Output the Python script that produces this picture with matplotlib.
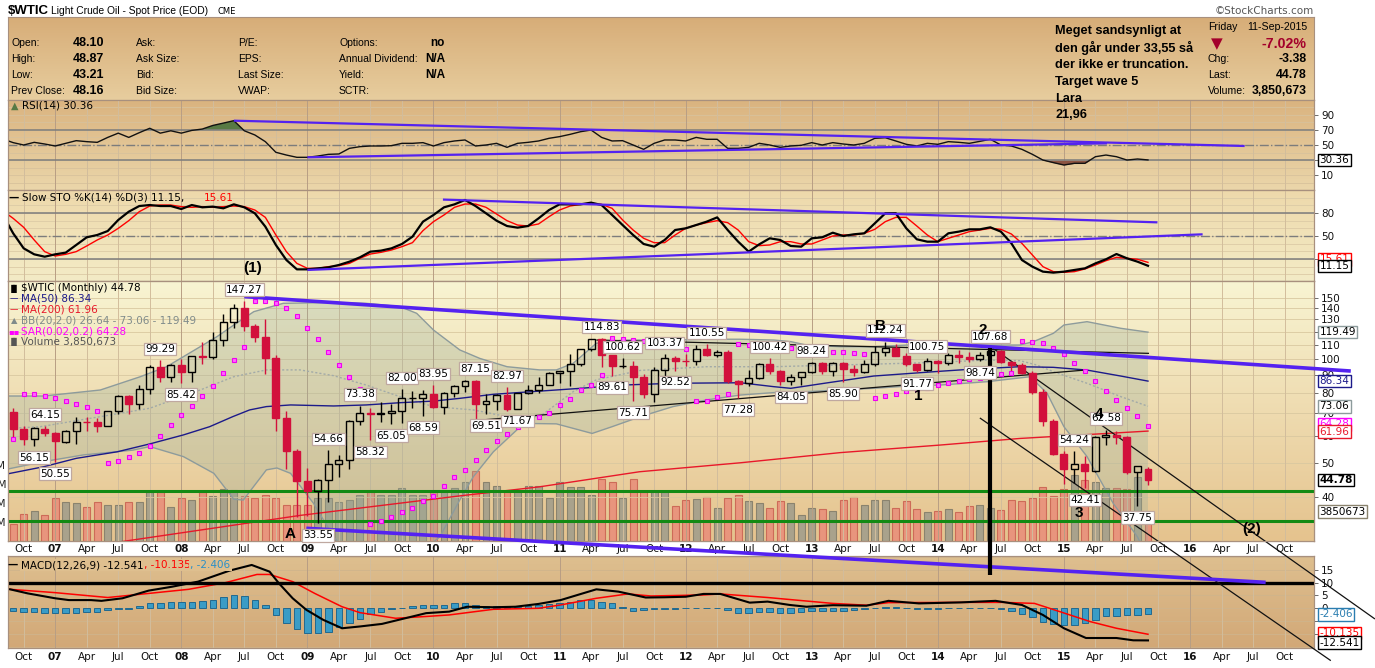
import numpy as np
import pandas as pd
import matplotlib
matplotlib.use('Agg')
import matplotlib.pyplot as plt
from matplotlib.colors import LinearSegmentedColormap
from matplotlib.ticker import NullLocator

W, H = 1375, 668
ARIAL = ['Liberation Sans', 'DejaVu Sans']
plt.rcParams['font.family'] = ['DejaVu Sans']

# ---------------- monthly candles, Sep 2006 .. Sep 2015 ----------------
months = pd.period_range('2006-09', '2015-09', freq='M')
opens = [70.3, 62.9, 58.7, 62.9, 61.05, 57.8, 61.8, 65.9, 65.7, 64.0, 70.7, 78.2,
         74.0, 81.7, 94.5, 88.7, 96.0, 91.75, 101.8, 101.6, 113.5, 127.4, 140.0, 124.1,
         115.5, 100.6, 67.8, 54.4, 44.6, 41.7, 44.8, 49.7, 51.1, 66.3, 69.9, 69.45,
         70.0, 70.6, 77.0, 77.3, 79.4, 72.9, 79.7, 83.8, 86.2, 74.0, 75.6, 78.95,
         71.9, 80.0, 81.4, 84.1, 91.4, 92.2, 97.0, 106.7, 113.9, 102.7, 95.4, 95.7,
         88.8, 79.2, 93.2, 100.4, 98.8, 98.5, 107.1, 103.0, 104.9, 86.5, 85.0, 88.1,
         96.5, 92.2, 86.2, 88.9, 91.8, 97.5, 92.05, 97.2, 93.5, 92.0, 96.6, 105.0,
         107.7, 102.3, 96.4, 92.7, 98.4, 97.5, 102.6, 101.6, 99.7, 102.7, 105.4, 98.2,
         96.0, 91.2, 80.5, 66.2, 53.3, 48.2, 49.8, 47.6, 59.6, 60.3, 59.5, 47.1, 48.10]
highs = [72.0, 63.9, 63.6, 64.15, 61.5, 62.4, 68.1, 67.9, 67.5, 70.8, 78.8, 78.8,
         83.9, 96.2, 99.29, 96.8, 100.1, 102.1, 111.8, 119.9, 135.1, 143.7, 147.27, 126.2,
         130.0, 103.0, 71.0, 55.0, 48.6, 45.2, 54.66, 53.0, 66.6, 73.38, 72.0, 75.0,
         74.4, 82.00, 81.0, 81.4, 83.95, 80.5, 83.9, 87.0, 87.15, 79.3, 79.5, 82.97,
         80.0, 84.4, 89.0, 92.0, 92.6, 103.4, 106.95, 113.9, 114.83, 102.9, 100.62, 98.4,
         90.5, 94.65, 103.37, 101.9, 103.7, 109.8, 110.55, 106.3, 106.2, 86.9, 92.9, 97.4,
         100.42, 93.0, 90.3, 91.9, 98.24, 98.0, 97.7, 97.8, 96.0, 99.0, 108.9, 112.24,
         110.7, 104.2, 96.9, 100.75, 99.4, 104.0, 106.0, 104.9, 104.5, 107.68, 105.8, 98.8,
         97.2, 92.5, 82.0, 67.0, 54.2, 54.24, 52.5, 59.9, 62.58, 61.8, 59.9, 49.3, 48.87]
lows = [59.5, 56.6, 56.15, 59.8, 50.55, 57.1, 56.7, 61.9, 61.6, 63.9, 69.5, 69.2,
        71.8, 79.0, 85.9, 85.8, 85.42, 86.1, 97.0, 100.0, 109.0, 122.6, 120.4, 112.2,
        90.5, 62.0, 48.2, 35.1, 35.3, 33.55, 38.7, 45.6, 48.3, 64.5, 58.32, 66.0,
        65.05, 65.3, 72.4, 68.59, 72.4, 69.5, 77.7, 80.5, 66.8, 69.51, 71.3, 70.8,
        71.67, 79.0, 79.7, 84.0, 85.1, 83.85, 95.6, 105.5, 94.63, 89.61, 94.0, 75.71,
        77.1, 74.95, 89.3, 92.52, 95.4, 95.9, 102.1, 101.0, 85.2, 77.28, 83.7, 87.3,
        90.5, 84.1, 84.05, 84.2, 91.2, 90.3, 89.3, 85.90, 89.4, 91.1, 95.5, 102.2,
        101.8, 95.5, 91.77, 92.5, 91.2, 96.3, 97.4, 97.9, 98.74, 101.4, 97.2, 92.5,
        90.4, 79.4, 64.1, 52.7, 43.6, 43.9, 42.41, 47.1, 56.5, 57.0, 46.7, 37.75, 43.21]
closes = [62.9, 58.7, 63.1, 61.05, 58.1, 61.8, 65.9, 65.7, 64.0, 70.7, 78.2, 74.0,
          81.7, 94.5, 88.7, 96.0, 91.75, 101.8, 101.6, 113.5, 127.4, 140.0, 124.1, 115.5,
          100.6, 67.8, 54.4, 44.6, 41.7, 44.8, 49.7, 51.1, 66.3, 69.9, 69.45, 69.96,
          70.6, 77.0, 77.3, 79.4, 72.9, 79.7, 83.8, 86.2, 73.97, 75.6, 78.95, 71.9,
          79.97, 81.4, 84.1, 91.4, 92.2, 97.0, 106.7, 113.9, 102.7, 95.4, 95.7, 88.8,
          79.2, 93.2, 100.4, 98.8, 98.5, 107.1, 103.0, 104.9, 86.5, 84.96, 88.1, 96.5,
          92.2, 86.2, 88.9, 91.8, 97.5, 92.05, 97.2, 93.5, 91.97, 96.6, 105.0, 107.7,
          102.3, 96.4, 92.7, 98.4, 97.5, 102.6, 101.6, 99.7, 102.7, 105.4, 98.2, 96.0,
          91.2, 80.5, 66.2, 53.3, 48.2, 49.8, 47.6, 59.6, 60.3, 59.5, 47.1, 49.2, 44.78]
volume_m = [2.3, 3.5, 3.9, 3.4, 5.6, 5.1, 5.0, 4.5, 5.1, 4.7, 4.8, 5.1,
            5.1, 6.4, 6.4, 4.5, 5.7, 5.4, 6.4, 5.9, 6.8, 6.7, 5.9, 5.7,
            6.1, 5.7, 4.7, 4.8, 4.8, 5.7, 5.7, 5.1, 5.4, 6.0, 6.4, 6.0,
            6.0, 7.0, 6.0, 6.0, 6.6, 6.7, 7.0, 7.7, 9.2, 7.7, 7.2, 6.6,
            6.6, 7.2, 7.3, 5.7, 7.7, 7.1, 7.1, 6.0, 8.2, 7.7, 5.7, 8.2,
            6.4, 6.4, 6.4, 4.6, 5.4, 5.5, 5.8, 4.3, 5.6, 6.0, 5.3, 5.0,
            4.3, 5.3, 5.0, 3.4, 4.3, 4.2, 4.0, 5.4, 5.8, 4.8, 5.4, 5.4,
            4.3, 5.3, 4.2, 3.8, 3.9, 4.2, 3.8, 4.6, 4.7, 4.3, 4.1, 5.4,
            5.3, 5.6, 7.1, 5.9, 6.8, 8.7, 8.0, 7.8, 7.0, 7.0, 6.9, 8.4, 3.85]
sar = [58.7, 79.1, 79.1, 78.2, 77.0, 75.8, 74.0, 72.5, 71.0, 50.2, 50.9, 52.0,
       53.7, 56.1, 60.0, 64.5, 68.9, 73.2, 78.2, 83.8, 90.9, 99.3, 108.1, 147.3,
       147.3, 144.7, 140.0, 133.0, 122.6, 114.0, 104.5, 96.1, 88.5, 81.9, 33.5, 34.0,
       35.1, 36.1, 37.1, 38.9, 40.4, 43.1, 45.6, 47.9, 51.1, 54.6, 58.0, 60.8,
       63.8, 66.0, 68.2, 70.0, 73.5, 76.5, 81.4, 84.0, 89.7, 114.7, 114.2, 113.4,
       112.7, 111.5, 109.7, 108.1, 107.1, 75.5, 75.8, 77.7, 79.1, 110.2, 109.5, 109.0,
       108.5, 108.1, 107.6, 106.4, 105.5, 105.0, 104.5, 104.5, 103.8, 103.3, 77.4, 78.2,
       79.3, 80.7, 81.9, 82.3, 84.0, 85.1, 86.4, 87.6, 88.3, 89.3, 90.3, 90.9,
       112.7, 111.8, 111.0, 107.6, 103.4, 97.2, 92.3, 86.4, 80.9, 76.2, 72.1, 68.5, 64.28]
macd_hist = [-1.0, -1.3, -1.6, -1.9, -1.9, -1.9, -1.7, -1.6, -1.3, -0.6, -0.1, -0.1,
             0.9, 1.9, 1.9, 2.5, 2.5, 2.5, 3.0, 3.2, 4.5, 5.2, 4.8, 3.2,
             1.3, -2.6, -5.6, -8.2, -9.7, -9.7, -9.1, -7.4, -5.8, -4.3, -2.2, -1.3,
             -0.1, 0.3, 0.9, 1.3, 1.3, 1.3, 1.9, 1.9, 1.3, 0.9, 0.9, 0.4,
             0.6, 0.9, 1.3, 1.6, 1.9, 2.6, 3.2, 3.2, 2.6, 1.9, 0.6, -0.9,
             -0.6, -0.1, -0.1, -0.1, 0.1, 0.1, 0.1, 0.0, -0.6, -1.7, -1.7, -1.3,
             -1.3, -1.7, -1.7, -1.3, -1.0, -1.0, -0.9, -0.9, -0.6, -0.1, 0.3, 0.5,
             0.5, 0.2, -0.1, -0.1, -0.1, 0.1, 0.1, 0.2, 0.2, 0.3, -0.4, -0.9,
             -2.2, -3.5, -5.2, -6.1, -6.5, -6.5, -5.8, -4.5, -3.0, -3.0, -2.7, -2.7, -2.406]

# ---------------- oscillators, Aug 2006 .. Sep 2015 ----------------
osc_months = pd.period_range('2006-08', '2015-09', freq='M')
rsi = [58.0, 53.1, 50.0, 53.5, 51.3, 48.7, 52.2, 55.7, 54.4, 53.5, 60.0, 65.6,
       60.0, 66.2, 72.0, 65.6, 68.7, 65.6, 69.2, 71.0, 75.7, 78.8, 82.0, 68.7,
       63.2, 54.4, 40.4, 36.8, 33.8, 33.8, 35.5, 37.7, 38.2, 45.6, 47.8, 48.7,
       48.7, 49.1, 52.2, 52.2, 53.1, 48.7, 53.1, 55.3, 56.6, 48.7, 50.0, 52.2,
       46.9, 52.2, 53.5, 55.3, 58.8, 61.0, 64.0, 67.5, 69.7, 60.0, 55.3, 55.7,
       50.0, 44.3, 52.2, 56.6, 56.6, 55.3, 60.0, 57.5, 57.5, 45.6, 45.6, 46.9,
       52.2, 50.0, 46.9, 48.7, 49.6, 53.1, 50.0, 53.1, 51.3, 50.0, 52.2, 58.8,
       59.6, 55.3, 50.9, 48.7, 52.2, 50.9, 54.4, 53.5, 52.2, 54.8, 57.5, 50.0,
       48.7, 44.3, 37.7, 30.2, 26.8, 23.7, 25.9, 25.9, 34.6, 36.8, 34.6, 30.2, 31.6, 30.36]
sto_k = [78.0, 53.5, 33.9, 26.1, 23.0, 26.1, 28.3, 38.3, 48.3, 51.3, 56.5, 70.9,
         81.7, 89.1, 90.4, 89.1, 89.1, 85.2, 90.4, 87.4, 88.3, 86.1, 91.3, 87.4,
         79.6, 62.2, 38.3, 18.7, 6.5, 6.5, 7.8, 9.1, 12.2, 16.5, 22.2, 29.6,
         30.9, 33.9, 39.6, 49.1, 68.7, 77.4, 87.4, 91.3, 97.0, 89.1, 79.6, 70.0,
         63.0, 60.9, 63.0, 73.0, 83.9, 91.3, 91.3, 91.3, 93.5, 90.4, 77.4, 64.3,
         51.3, 39.6, 36.1, 44.8, 57.8, 60.0, 64.3, 68.7, 74.3, 57.8, 42.6, 29.6,
         39.1, 47.0, 44.8, 37.0, 36.1, 47.0, 48.3, 54.3, 50.0, 52.2, 53.5, 66.5,
         79.6, 79.6, 60.0, 45.7, 42.6, 42.6, 53.5, 55.7, 58.7, 58.7, 61.3, 55.7,
         40.4, 18.7, 10.0, 3.5, 2.2, 3.5, 5.7, 7.8, 14.3, 19.6, 26.5, 20.9, 16.5, 11.15]
sto_d = [83.0, 73.0, 61.3, 44.8, 29.6, 23.9, 26.1, 29.6, 37.0, 44.8, 51.3, 60.0,
         70.0, 81.7, 89.1, 90.4, 90.4, 88.3, 87.4, 88.3, 87.4, 88.3, 89.1, 88.3,
         83.9, 74.3, 51.3, 29.6, 14.3, 7.8, 7.8, 10.0, 11.3, 14.3, 20.9, 26.5,
         28.7, 31.7, 36.1, 41.3, 57.0, 68.7, 77.4, 87.4, 91.7, 91.7, 87.4, 78.7,
         70.0, 64.3, 63.0, 65.7, 75.2, 83.9, 89.1, 91.3, 91.7, 91.3, 86.1, 70.9,
         57.8, 47.0, 41.3, 41.3, 51.3, 60.0, 64.3, 67.4, 70.0, 67.4, 57.8, 42.6,
         37.4, 38.3, 42.6, 42.6, 39.6, 39.6, 44.8, 50.0, 51.3, 51.3, 53.5, 58.7,
         68.7, 74.3, 74.3, 63.0, 51.3, 42.6, 47.0, 51.3, 55.7, 57.8, 60.0, 58.7,
         52.6, 40.4, 25.2, 10.0, 3.5, 2.6, 3.5, 7.0, 12.2, 17.8, 22.2, 20.9, 19.6, 15.61]

# ---------------- smooth overlays read at points (months since Jan 2007) ----------------
ma50_at = [-4.6, -1.1, 2.0, 5.9, 9.0, 12.2, 14.7, 16.9, 18.5, 20.1, 22.4, 26.5, 29.6, 32.8, 36.0,
           38.5, 41.7, 50.0, 54.0, 58.8, 65.2, 68.4, 70.0, 73.2, 77.9, 84.3, 87.1, 91.8, 95.0,
           98.2, 101.4, 104]
ma50 = [46.6, 48.9, 51.7, 54.0, 56.9, 60.4, 63.8, 68.2, 71.3, 72.9, 73.7, 73.2, 73.7, 74.8, 75.6,
        77.0, 79.1, 82.3, 84.1, 85.1, 85.4, 83.2, 82.3, 85.1, 89.3, 92.2, 93.4, 95.0, 94.6,
        92.9, 89.3, 86.34]
ma200_at = [-4.6, 6.5, 23.3, 38.5, 46.1, 55.6, 65.2, 74.7, 84.3, 91.8, 104]
ma200 = [27.0, 29.8, 35.4, 40.3, 42.8, 47.3, 50.2, 53.7, 56.5, 59.0, 61.96]
bb_up_at = [-4.6, -1.1, 4.3, 8.1, 10.6, 13.8, 15.4, 17.0, 18.9, 21.7, 26.5, 29.6, 32.8, 34.4,
            36.0, 38.5, 40.4, 43.0, 46.1, 47.7, 49.3, 51.5, 54.1, 58.8, 62.0, 65.2, 68.4, 70.0,
            71.5, 74.7, 77.9, 81.1, 84.2, 87.1, 91.8, 93.1, 95.0, 96.0, 98.2, 101.4, 104]
bb_up = [78.2, 78.2, 81.4, 88.9, 95.0, 108.5, 116.0, 125.3, 136.9, 144.7, 145.5, 144.7, 141.6,
         135.4, 121.2, 106.2, 100.4, 95.0, 93.0, 93.0, 97.2, 111.0, 113.4, 113.4, 114.0, 114.0,
         113.4, 112.2, 109.7, 108.5, 108.5, 109.7, 111.0, 109.7, 109.7, 112.2, 118.6, 125.3,
         128.1, 122.6, 119.49]
bb_mid_at = [-4.6, -1.4, 4.3, 9.0, 13.8, 17.0, 20.1, 23.3, 26.5, 29.6, 32.8, 36.0, 39.8, 43.0,
             46.1, 49.3, 51.5, 55.7, 62.0, 68.4, 74.7, 81.1, 84.2, 88.7, 91.8, 93.4, 95.0,
             98.2, 101.4, 104]
bb_mid = [63.0, 63.8, 68.2, 72.1, 81.4, 88.9, 93.0, 93.0, 89.5, 84.1, 77.9, 72.9, 71.3, 68.2,
          68.2, 80.5, 87.1, 92.7, 95.0, 95.0, 96.1, 97.2, 97.9, 99.3, 98.9, 96.1, 91.9,
          85.1, 77.9, 73.06]
bb_lo_at = [-4.6, -1.1, 2.7, 7.4, 9.0, 12.2, 15.1, 17.0, 17.9, 20.1, 21.1, 22.4, 24.6, 26.5,
            29.0, 33.0, 36.6, 38.5, 39.8, 41.7, 44.6, 47.7, 51.1, 53.0, 55.7, 58.8, 62.0,
            65.2, 68.4, 71.5, 74.7, 77.9, 81.1, 84.2, 88.7, 92.8, 94.4, 96.0, 98.2, 100.7,
            103.0, 104]
bb_lo = [48.1, 50.6, 52.9, 54.6, 55.9, 52.3, 46.8, 39.4, 39.2, 47.9, 48.5, 46.8, 38.3, 30.7,
         25.0, 25.0, 30.7, 39.2, 45.8, 54.0, 65.2, 65.0, 61.0, 63.8, 68.2, 72.9, 76.2,
         78.7, 80.0, 80.5, 81.4, 82.3, 83.5, 84.1, 86.0, 88.9, 79.6, 63.8, 52.3, 38.3,
         30.7, 26.64]
macd_at = [-4.3, -2.6, 0, 1.3, 3.4, 4.4, 6.4, 8.9, 11.1, 13.6, 16.6, 18.7, 20.4, 21.3, 22.6,
           23.9, 25.5, 27.3, 29, 31.1, 33.2, 35.3, 37.5, 39.2, 41.7, 43.8, 46, 48.1, 50.2,
           51.5, 53.6, 56.2, 58, 60, 61.7, 63.3, 66.1, 67.8, 69.9, 71.5, 74, 77.2, 79.3, 82.2,
           86.2, 89.5, 92, 94, 96, 98.1, 101, 102.6, 104]
macd = [7.4, 5.8, 3.9, 3.2, 3.2, 2.9, 3.9, 6.9, 8.4, 10.4, 14.7, 16.9, 14.3, 9.7, 3.9,
        -0.6, -4.5, -7.8, -7.1, -6.1, -4.0, -1.9, -1.3, 0.6, 0.4, 0.6, 1.7, 3.2, 5.8,
        7.4, 6.5, 4.2, 4.3, 4.5, 5.6, 5.6, 2.2, 2.6, 1.3, 0.6, 1.2, 1.0, 2.9, 1.9,
        2.3, 2.9, 1.3, -2.6, -7.8, -11.6, -11.6, -12.5, -12.541]
signal_at = [-4.3, 0, 5, 8.9, 12.7, 16.2, 19.2, 20.4, 22.6, 24.7, 27.3, 29, 32.4, 35.3, 37.5,
             41.7, 46, 48.1, 51.5, 54.5, 56.7, 61.7, 63.3, 67.8, 74, 77.2, 79.3, 86.2, 90.3,
             93.2, 95.6, 98.5, 101, 104]
signal = [7.4, 6.1, 4.2, 5.8, 7.4, 10.0, 13.2, 13.2, 10.4, 5.8, 0.6, -1.7, -3.9, -3.2, -2.6,
          -0.4, 0.0, 1.3, 3.9, 5.6, 4.8, 5.2, 5.6, 4.2, 1.9, 1.2, 2.2, 2.3, 2.3,
          1.9, -1.3, -5.2, -7.8, -10.135]

# high / low tags on the price panel: (month since Jan 2007, value, above?)
tag_at = [-1, -2, 0, 10, 12, 18, 25, 26, 29, 30, 32, 33, 35, 36, 40, 41, 43, 44, 52, 53, 54,
          55, 58, 59, 62, 65, 68, 70, 72, 75, 79, 82, 83, 88, 89, 97, 98, 100, 103]
tag_val = [64.15, 56.15, 50.55, 99.29, 85.42, 147.27, 33.55, 54.66, 73.38, 58.32, 65.05, 82.00,
           68.59, 83.95, 87.15, 69.51, 82.97, 71.67, 114.83, 89.61, 100.62, 75.71, 103.37,
           92.52, 110.55, 77.28, 100.42, 84.05, 98.24, 85.90, 112.24, 91.77, 100.75, 98.74,
           107.68, 54.24, 42.41, 62.58, 37.75]
tag_up = [1, 0, 0, 1, 0, 1, 0, 1, 1, 0, 0, 1, 0, 1, 1, 0, 1, 0, 1, 0, 1,
          0, 1, 0, 1, 0, 1, 0, 1, 0, 1, 0, 1, 0, 1, 1, 0, 1, 0]

# wave labels drawn on the chart
wave_text = ['(1)', 'A', 'B', '2', '1', '4', '3', '(2)']
wave_at = [18.8, 22.4, 78.5, 88.3, 82.1, 99.3, 97.4, 113.9]
wave_val = [183, 31.3, 124.5, 121.3, 78.2, 69.4, 35.9, 32.3]

# hand drawn lines: ((month, value), (month, value))
main_purple = [((18.0, 151.3), (123.3, 92.3)), ((23.9, 32.5), (115.2, 22.7))]
main_black = [((39.8, 66.4), (98.0, 92.9)), ((51.5, 113.4), (104.1, 103.8)),
              ((89.2, 107.6), (125.6, 17.8)), ((88.0, 67.6), (121.4, 13.5))]
wave2_line = ((89, 107.68), (89, 23.8))
green_levels = [41.7, 34.1]
rsi_purple = [((17.0, 82.0), (113.2, 48.7)), ((24.0, 33.8), (100.1, 52.2))]
sto_purple = [((36.9, 97.5), (104.9, 67.8)), ((24.0, 5.7), (109.2, 52.2))]

# ---------------- layout helpers ----------------
def fbox(x0, y0, x1, y1):
    return [x0 / W, 1 - y1 / H, (x1 - x0) / W, (y1 - y0) / H]

def fpt(x, y):
    return x / W, 1 - y / H

base = pd.Period('2007-01', freq='M')
x = np.array([(p - base).n for p in months])
xo = np.array([(p - base).n for p in osc_months])
XMIN, XMAX = -4.54, 119.8
quarters = np.arange(-3, 118, 3)
qlabels = [f"{(2007 + q // 12) % 100:02d}" if q % 12 == 0 else
           ['Jan', 'Apr', 'Jul', 'Oct'][(q % 12) // 3] for q in quarters]

fig = plt.figure(figsize=(W / 100, H / 100), dpi=100)
fig.patch.set_facecolor('white')


def gradient(rect, top, bottom, z=0):
    bg = fig.add_axes(fbox(*rect), zorder=z)
    cm = LinearSegmentedColormap.from_list('bg', [bottom, top])
    bg.imshow(np.linspace(0, 1, 100).reshape(-1, 1), cmap=cm, aspect='auto',
              origin='lower', extent=[0, 1, 0, 1])
    bg.set_xticks([]); bg.set_yticks([])
    for s in bg.spines.values():
        s.set_color('#A8907E')
    return bg


def panel(rect, top, bottom, z=2):
    gradient(rect, top, bottom)
    ax = fig.add_axes(fbox(*rect), zorder=z)
    ax.set_facecolor('none')
    for s in ax.spines.values():
        s.set_color('#A8907E')
    ax.set_xlim(XMIN, XMAX)
    ax.tick_params(axis='x', length=0, labelbottom=False)
    ax.yaxis.tick_right()
    ax.tick_params(axis='y', which='both', length=3, width=0.6, colors='#555555',
                   labelsize=7.5, labelcolor='#111111', pad=2)
    for q in quarters:
        ax.axvline(q, color='#B89E84' if q % 12 == 0 else '#D2BD9C', lw=0.7, zorder=0.3)
    return ax


def tag(ax, y, text, ec, tc='#000000', bold=False):
    ax.annotate(text, xy=(1, y), xycoords=('axes fraction', 'data'), xytext=(4, 0),
                textcoords='offset points', ha='left', va='center', fontsize=7.5,
                color=tc, fontweight='bold' if bold else 'normal', annotation_clip=False,
                bbox=dict(boxstyle='square,pad=0.12', fc='white', ec=ec, lw=1), zorder=20)


def seg(ax, line, **kw):
    (a, b), (c, d) = line
    ax.plot([a, c], [b, d], clip_on=False, solid_capstyle='butt', **kw)


def right_ticks(ax, ticks, shown):
    ax.set_yticks(ticks)
    ax.set_yticklabels([str(t) if t in shown else '' for t in ticks])

# ---------------- header ----------------
gradient((7.5, 17, 1314, 100), '#D7AD78', '#E7CD9E')
fig.text(*fpt(8, 11), '$WTIC', family=ARIAL, fontsize=9.5, fontweight='bold', va='center')
fig.text(*fpt(51, 11), 'Light Crude Oil - Spot Price (EOD)', family=ARIAL, fontsize=7.4, va='center')
fig.text(*fpt(218, 11), 'CME', fontsize=6, va='center')
fig.text(*fpt(1314, 11), '\u00a9StockCharts.com', fontsize=7.5, color='#555555', ha='right', va='center')

rows_y = [43, 59, 75, 91]
col1 = ['Open:', 'High:', 'Low:', 'Prev Close:']
col1v = ['48.10', '48.87', '43.21', '48.16']
col2 = ['Ask:', 'Ask Size:', 'Bid:', 'Bid Size:']
col3 = ['P/E:', 'EPS:', 'Last Size:', 'VWAP:']
col4 = ['Options:', 'Annual Dividend:', 'Yield:', 'SCTR:']
col4v = ['no', 'N/A', 'N/A', '']
for i, yy in enumerate(rows_y):
    fig.text(*fpt(11, yy), col1[i], family=ARIAL, fontsize=7.5, va='center')
    fig.text(*fpt(73, yy), col1v[i], family=ARIAL, fontsize=9, fontweight='bold', va='center')
    fig.text(*fpt(136, yy), col2[i], family=ARIAL, fontsize=7.5, va='center')
    fig.text(*fpt(238, yy), col3[i], family=ARIAL, fontsize=7.5, va='center')
    fig.text(*fpt(339, yy), col4[i], family=ARIAL, fontsize=7.5, va='center')
    fig.text(*fpt(445, yy), col4v[i], family=ARIAL, fontsize=8.5, fontweight='bold', va='center', ha='right')

note = ['Meget sandsynligt at', 'den g\u00e5r under 33,55 s\u00e5', 'der ikke er truncation.',
        'Target wave 5', 'Lara', '21,96']
for i, s in enumerate(note):
    fig.text(*fpt(1055, 31 + 16.9 * i), s, family=ARIAL, fontsize=9.2, fontweight='bold', va='center')

fig.text(*fpt(1208, 27), 'Friday', family=ARIAL, fontsize=7.6, va='center')
fig.text(*fpt(1307, 27), '11-Sep-2015', family=ARIAL, fontsize=7.6, va='center', ha='right')
fig.text(*fpt(1217, 44), '\u25bc', fontsize=11, color='#A3002B', va='center', ha='center')
fig.text(*fpt(1307, 44), '-7.02%', family=ARIAL, fontsize=10.2, fontweight='bold', color='#A3002B', va='center', ha='right')
for yy, lab, val in [(59, 'Chg:', '-3.38'), (75, 'Last:', '44.78'), (91, 'Volume:', '3,850,673')]:
    fig.text(*fpt(1208, yy), lab, family=ARIAL, fontsize=7.6, va='center')
    fig.text(*fpt(1307, yy), val, family=ARIAL, fontsize=8.8, fontweight='bold', va='center', ha='right')

# ---------------- RSI ----------------
ax_rsi = panel((7.5, 100, 1314, 190), '#DAB37F', '#EBD6AA')
ax_rsi.set_ylim(-9.2, 109.2)
for v in range(0, 101, 10):
    ax_rsi.axhline(v, color='#D8C29C', lw=0.6, zorder=0.2)
ax_rsi.axhline(70, color='#7C7C7C', lw=1.1); ax_rsi.axhline(30, color='#7C7C7C', lw=1.1)
ax_rsi.axhline(50, color='#7C7C7C', lw=1.0, ls='-.')
r = np.array(rsi)
ax_rsi.fill_between(xo, r, 70, where=r >= 70, interpolate=True, color='#587A44', lw=0)
ax_rsi.fill_between(xo, r, 30, where=r <= 30, interpolate=True, color='#8C5442', lw=0)
ax_rsi.plot(xo, r, color='#111111', lw=1.0)
for ln in rsi_purple:
    seg(ax_rsi, ln, color='#5422F0', lw=1.6)
right_ticks(ax_rsi, [10, 30, 50, 70, 90], [10, 50, 70, 90])
tag(ax_rsi, 30.36, '30.36', '#000000')
fig.text(*fpt(15, 106), '\u25b2', fontsize=7, color='#587A44', va='center', ha='center')
fig.text(*fpt(22, 106), 'RSI(14) 30.36', fontsize=7.5, va='center')

# ---------------- Slow stochastic ----------------
ax_sto = panel((7.5, 190, 1314, 281), '#EED9AB', '#F3EBC6')
ax_sto.set_ylim(-8.7, 110)
for v in range(0, 101, 10):
    ax_sto.axhline(v, color='#DCCBA6', lw=0.6, zorder=0.2)
ax_sto.axhline(80, color='#7C7C7C', lw=1.1); ax_sto.axhline(20, color='#7C7C7C', lw=1.1)
ax_sto.axhline(50, color='#7C7C7C', lw=1.0, ls='-.')
ax_sto.plot(xo, sto_d, color='#FF0000', lw=1.0)
ax_sto.plot(xo, sto_k, color='#000000', lw=1.6)
for ln in sto_purple:
    seg(ax_sto, ln, color='#5422F0', lw=1.6)
right_ticks(ax_sto, [20, 50, 80], [50, 80])
tag(ax_sto, 19.6, '15.61', '#FF0000', '#FF0000')
tag(ax_sto, 11.15, '11.15', '#000000')
fig.text(*fpt(14, 198), '\u2014', fontsize=7.5, fontweight='bold', va='center', ha='center')
fig.text(*fpt(22, 198), 'Slow STO %K(14) %D(3) 11.15, ', fontsize=7.5, va='center')
fig.text(*fpt(204, 198), '15.61', fontsize=7.5, color='#FF0000', va='center')

# ---------------- price panel ----------------
main_rect = (7.5, 281, 1314, 541)
gradient(main_rect, '#F8F4D2', '#E5C38E')
ax_vol = fig.add_axes(fbox(*main_rect), zorder=1)
ax_vol.set_facecolor('none')
for s in ax_vol.spines.values():
    s.set_visible(False)
ax_vol.set_xlim(XMIN, XMAX)
ax_vol.set_ylim(0, 260 / 7.6)
ax_vol.tick_params(axis='x', length=0, labelbottom=False)
ax_vol.set_yticks([2.5, 5, 7.5, 10])
ax_vol.set_yticklabels(['2.5M', '5M', '7.5M', '10M'])
ax_vol.tick_params(axis='y', length=0, pad=1, labelsize=7.5, labelcolor='#222222')

o = np.array(opens); h = np.array(highs); l = np.array(lows); c = np.array(closes)
prev = np.concatenate([[o[0]], c[:-1]])
down = c < prev
vol_fc = np.where(down, '#E8957D', '#A9A28C')
vol_ec = np.where(down, '#CD6B58', '#8A836E')
ax_vol.bar(x, volume_m, width=0.66, color=vol_fc, edgecolor=vol_ec, lw=0.8)

ax = panel(main_rect, '#F8F4D2', '#E5C38E', z=3)
ax.set_yscale('log')
ax.set_ylim(29.87, 167.8)
pticks = [40, 50, 60, 70, 80, 90, 100, 110, 120, 130, 140, 150]
right_ticks(ax, pticks, [40, 50, 60, 70, 80, 90, 100, 110, 130, 140, 150])
ax.yaxis.set_minor_locator(NullLocator())
for v in pticks:
    ax.axhline(v, color='#D9C8A0', lw=0.6, zorder=0.2)

bx = np.concatenate([bb_up_at, bb_lo_at[::-1]])
by = np.concatenate([bb_up, bb_lo[::-1]])
ax.fill(bx, by, color='#98AE9C', alpha=0.3, lw=0, zorder=1)
ax.plot(bb_up_at, bb_up, color='#8D9B9C', lw=1.0, zorder=1.2)
ax.plot(bb_lo_at, bb_lo, color='#8D9B9C', lw=1.0, zorder=1.2)
ax.plot(bb_mid_at, bb_mid, color='#A2AAA8', lw=1.0, ls=(0, (1.5, 1.5)), zorder=1.2)
ax.plot(ma200_at, ma200, color='#E8182A', lw=1.0, zorder=1.5)
ax.plot(ma50_at, ma50, color='#1C1A8A', lw=1.0, zorder=1.5)
for lv in green_levels:
    ax.axhline(lv, color='#138A13', lw=2.2, zorder=1.6)
for ln in main_black:
    seg(ax, ln, color='#111111', lw=0.9, zorder=1.7)

# candles
red, black = '#D2103C', '#000000'
for xi, oi, hi, li, ci, dn in zip(x, o, h, l, c, down):
    col = red if dn else black
    lo_b, hi_b = min(oi, ci), max(oi, ci)
    ax.vlines(xi, li, lo_b, color=col, lw=1.0, zorder=3)
    ax.vlines(xi, hi_b, hi, color=col, lw=1.0, zorder=3)
    filled = ci < oi
    ax.bar(xi, hi_b - lo_b, bottom=lo_b, width=0.66, color=col if filled else 'none',
           edgecolor=col, lw=1.0, zorder=3.2)

ax.plot(x, sar, ls='none', marker='s', ms=3.2, mfc='#FF66FF', mec='#F000F0', mew=0.8, zorder=4)

for ln in main_purple:
    seg(ax, ln, color='#5422F0', lw=2.6, zorder=5)
seg(ax, wave2_line, color='#000000', lw=3.0, zorder=5)

for m, v, up in zip(tag_at, tag_val, tag_up):
    ax.annotate(f'{v:.2f}', xy=(m, v), xytext=(0, 8 if up else -8.5), textcoords='offset points',
                ha='center', va='center', fontsize=7.5, zorder=6,
                bbox=dict(boxstyle='square,pad=0.12', fc='white', ec='#BFA8A0', lw=0.9))

for s, m, v in zip(wave_text, wave_at, wave_val):
    ax.text(m, v, s, family=ARIAL, fontsize=11, fontweight='bold', ha='center', va='center',
            clip_on=False, zorder=7)

ax.set_xticks(quarters)
ax.set_xticklabels(qlabels)
ax.tick_params(axis='x', labelbottom=True, length=0, pad=2, labelsize=7.5, labelcolor='#111111')
for lab, q in zip(ax.get_xticklabels(), quarters):
    if q % 12 == 0:
        lab.set_fontweight('bold')

tag(ax, 119.49, '119.49', '#8D9B9C')
tag(ax, 86.34, '86.34', '#1C1A8A', '#1C1A8A')
tag(ax, 73.06, '73.06', '#8D9B9C')
tag(ax, 64.8, '64.28', '#FF00FF', '#FF00FF')
tag(ax, 61.7, '61.96', '#E8182A', '#E8182A')
tag(ax, 44.78, '44.78', '#000000', bold=True)
tag(ax_vol, 3.85, '3850673', '#8A836E')

leg = [('$WTIC (Monthly) 44.78', '#000000'), ('MA(50) 86.34', '#1C1A8A'),
       ('MA(200) 61.96', '#E8182A'), ('BB(20,2.0) 26.64 - 73.06 - 119.49', '#7F8B8B'),
       ('SAR(0.02,0.2) 64.28', '#FF00FF'), ('Volume 3,850,673', '#555555')]
icons = ['\u2590\u258c', '\u2014', '\u2014', '\u25b2', '\u25aa\u25aa', '\u2590\u258c']
for i, ((s, col), ic) in enumerate(zip(leg, icons)):
    yy = 288 + 10.8 * i
    fig.text(*fpt(14, yy), ic, fontsize=6, color=col, va='center', ha='center', zorder=10)
    fig.text(*fpt(21, yy), s, fontsize=7.5, color=col, va='center', zorder=10)

# ---------------- MACD ----------------
ax_m = panel((7.5, 556, 1314, 648), '#DEBF8F', '#D2A877')
ax_m.set_ylim(-15.5, 20.4)
for v in range(-15, 21, 5):
    ax_m.axhline(v, color='#CFB48C', lw=0.6, zorder=0.2)
ax_m.axhline(10, color='#000000', lw=2.4, zorder=2)
ax_m.bar(x, macd_hist, width=0.62, color='#3A9CC6', edgecolor='#21698F', lw=0.7, zorder=1)
ax_m.plot(signal_at, signal, color='#FF0000', lw=1.1, zorder=1.5)
ax_m.plot(macd_at, macd, color='#000000', lw=1.5, zorder=1.6)
right_ticks(ax_m, [-10, -5, 0, 5, 10, 15], [0, 5, 10, 15])
ax_m.set_xticks(quarters)
ax_m.set_xticklabels(qlabels)
ax_m.tick_params(axis='x', labelbottom=True, length=0, pad=3, labelsize=7.5, labelcolor='#111111')
for lab, q in zip(ax_m.get_xticklabels(), quarters):
    if q % 12 == 0:
        lab.set_fontweight('bold')
tag(ax_m, -2.406, '-2.406', '#2A7DB0', '#2A7DB0')
tag(ax_m, -9.7, '-10.135', '#FF0000', '#FF0000')
tag(ax_m, -13.4, '-12.541', '#000000')

bgc = '#DEBF8F'
fig.text(*fpt(13, 565), '\u2014', fontsize=7.5, fontweight='bold', va='center', ha='center', zorder=10)
t1 = fig.text(*fpt(21, 565), 'MACD(12,26,9) -12.541', fontsize=7.5, va='center', zorder=10,
              bbox=dict(boxstyle='square,pad=0.1', fc=bgc, ec='none'))
t2 = ax_m.annotate(', -10.135', xy=(1, 0), xycoords=t1, xytext=(0, 0), textcoords='offset points',
                   fontsize=7.5, color='#FF0000', va='bottom', annotation_clip=False, zorder=10,
                   bbox=dict(boxstyle='square,pad=0.1', fc=bgc, ec='none'))
ax_m.annotate(', -2.406', xy=(1, 0), xycoords=t2, xytext=(0, 0), textcoords='offset points',
              fontsize=7.5, color='#2A8FC8', va='bottom', annotation_clip=False, zorder=10,
              bbox=dict(boxstyle='square,pad=0.1', fc=bgc, ec='none'))

fig.savefig('out.png', dpi=100, facecolor='white')
